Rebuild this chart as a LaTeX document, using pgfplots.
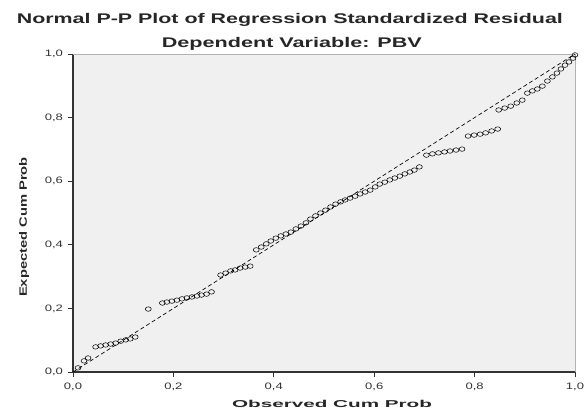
\documentclass[border=0pt]{standalone}
\usepackage{pgfplots}
\pgfplotsset{compat=1.18}
\usepackage{graphicx}
\usepackage{fontspec}
\setmainfont{Liberation Sans}
\newfontfamily\tickfont[FakeStretch=1.4]{Liberation Sans}
\definecolor{plotbg}{HTML}{F0F0F0}
\begin{document}
\begin{tikzpicture}
\begin{axis}[
  scale only axis,
  width=376.5pt, height=238.5pt,
  xmin=0, xmax=1, ymin=0, ymax=1,
  axis background/.style={fill=plotbg},
  axis x line*=bottom, axis y line*=left,
  axis line style={line width=1.4pt, black!80},
  xtick={0,0.2,...,1.0}, ytick={0,0.2,...,1.0},
  tick style={black!80, line width=0.6pt},
  tick align=outside, major tick length=4pt,
  /pgf/number format/.cd, fixed, fixed zerofill, precision=1, use comma, assume math mode=true,
  /pgfplots/.cd,
  tick label style={font=\tickfont\fontsize{7}{8}\selectfont, text=black!80},
  xticklabel style={yshift=-1pt},
  clip=false,
]
\draw[gray!60, line width=0.5pt] (axis cs:0,1) -- (axis cs:1,1) -- (axis cs:1,0);
\addplot[black, line width=0.5pt, densely dashed] coordinates {(0,0) (1,1)};
\addplot[only marks, mark=o, mark size=1.7pt, mark options={black, line width=0.4pt, xscale=1.3}] coordinates {
(0.010,0.013) (0.022,0.035) (0.030,0.044)
(0.045,0.079) (0.055,0.082) (0.065,0.085) (0.075,0.088) (0.085,0.091) (0.095,0.097) (0.105,0.101) (0.114,0.104) (0.124,0.110)
(0.150,0.198)
(0.178,0.217) (0.187,0.220) (0.197,0.223) (0.207,0.226) (0.217,0.230) (0.227,0.233) (0.237,0.236) (0.247,0.239) (0.256,0.242) (0.266,0.245) (0.276,0.252)
(0.294,0.305) (0.304,0.311) (0.314,0.318) (0.323,0.321) (0.333,0.327) (0.343,0.330) (0.353,0.333)
(0.365,0.384) (0.375,0.393) (0.385,0.403) (0.394,0.412) (0.404,0.421) (0.414,0.428) (0.424,0.434) (0.434,0.440) (0.444,0.450) (0.454,0.459) (0.464,0.469) (0.473,0.481) (0.483,0.491)
(0.493,0.500) (0.503,0.509) (0.513,0.519) (0.523,0.528) (0.533,0.535) (0.542,0.541) (0.552,0.547) (0.562,0.553) (0.572,0.560) (0.582,0.566)
(0.592,0.572) (0.602,0.582) (0.611,0.591) (0.621,0.597) (0.631,0.604) (0.641,0.610) (0.651,0.616) (0.661,0.623) (0.671,0.629) (0.680,0.635) (0.690,0.645)
(0.704,0.682) (0.716,0.686) (0.728,0.689) (0.740,0.692) (0.751,0.695) (0.763,0.698) (0.775,0.701)
(0.787,0.742) (0.799,0.745) (0.811,0.748) (0.822,0.752) (0.834,0.758) (0.846,0.764)
(0.848,0.824) (0.860,0.830) (0.872,0.836) (0.884,0.846) (0.895,0.855)
(0.905,0.877) (0.915,0.884) (0.925,0.890) (0.935,0.899)
(0.945,0.915) (0.955,0.928) (0.964,0.940) (0.972,0.953) (0.980,0.965) (0.988,0.975) (0.996,0.987) (1.000,0.997)
};
\node[anchor=base, inner sep=0pt, text=black!85] at ([yshift=23.25pt]axis description cs:0.432,1) {\resizebox{409.5pt}{\height}{\bfseries\fontsize{10.5}{12}\selectfont Normal P-P Plot of Regression Standardized Residual}};
\node[anchor=base, inner sep=0pt, text=black!85] at ([yshift=5.25pt]axis description cs:0.436,1) {\resizebox{195pt}{\height}{\bfseries\fontsize{10.5}{12}\selectfont Dependent Variable: PBV}};
\node[anchor=base, inner sep=0pt, text=black!85] at ([yshift=-26.25pt]axis description cs:0.516,0) {\resizebox{150pt}{\height}{\bfseries\fontsize{7.5}{9}\selectfont Observed Cum Prob}};
\node[anchor=base, inner sep=0pt, text=black!85, rotate=90] at ([xshift=-34.5pt]axis description cs:0,0.456) {\resizebox{105pt}{\height}{\bfseries\fontsize{8}{9}\selectfont Expected Cum Prob}};
\end{axis}
\pgfresetboundingbox
\path ([shift={(-54.75pt,-30pt)}]current axis.south west) rectangle ([shift={(7.5pt,40.5pt)}]current axis.north east);
\end{tikzpicture}
\end{document}
